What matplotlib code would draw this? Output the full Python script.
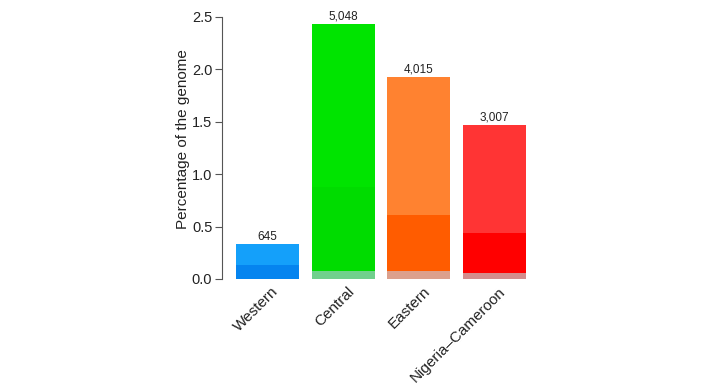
import matplotlib
matplotlib.use("Agg")
import matplotlib.pyplot as plt
import matplotlib.transforms as mtransforms

plt.rcParams['font.family'] = ['Liberation Sans', 'DejaVu Sans']

categories = ["Western", "Central", "Eastern", "Nigeria\u2013Cameroon"]
total_pct = [0.331, 2.433, 1.925, 1.467]
middle_pct = [0.134, 0.875, 0.611, 0.436]
base_pct = [0.0, 0.076, 0.076, 0.060]
counts = ["645", "5,048", "4,015", "3,007"]

light_colors = ["#14a0fa", "#00e400", "#ff8230", "#ff3434"]
dark_colors = ["#0584ef", "#00dc00", "#ff5c00", "#ff0000"]
base_colors = ["#8cb8e0", "#70d08c", "#dca08c", "#d48c8c"]

fig = plt.figure(figsize=(7.03, 3.87), dpi=100)
ax = fig.add_axes([222/703, 108/387, (540-222)/703, (279-17)/387])

x = list(range(len(categories)))
w = 0.83
ax.bar(x, total_pct, width=w, color=light_colors, linewidth=0)
ax.bar(x, middle_pct, width=w, color=dark_colors, linewidth=0)
ax.bar(x, base_pct, width=w, color=base_colors, linewidth=0)

for xi, t, c in zip(x, total_pct, counts):
    ax.text(xi, t + 0.015, c, ha='center', va='bottom', fontsize=8.5, color='#222222', clip_on=False)

ax.set_xlim(-0.6, 3.6)
ax.set_ylim(0, 2.5)
ax.set_yticks([0, 0.5, 1.0, 1.5, 2.0, 2.5])
ax.set_yticklabels(["0.0", "0.5", "1.0", "1.5", "2.0", "2.5"])
ax.tick_params(axis='y', length=5, width=0.8, color='#555555', labelsize=10.5, labelcolor='#222222', pad=2)
ax.set_xticks(x)
ax.set_xticklabels(categories, rotation=45, ha='right', va='top', rotation_mode='anchor', fontsize=11, color='#222222')
ax.tick_params(axis='x', length=0, pad=4)
offset = mtransforms.ScaledTranslation(4/100, 0, fig.dpi_scale_trans)
for lab in ax.get_xticklabels():
    lab.set_transform(lab.get_transform() + offset)

for s in ['top', 'right', 'bottom']:
    ax.spines[s].set_visible(False)
ax.spines['left'].set_color('#555555')
ax.spines['left'].set_linewidth(0.8)
ax.spines['left'].set_bounds(0, 2.5)

ax.set_ylabel("Percentage of the genome", fontsize=11, color='#222222')
ax.yaxis.set_label_coords(-0.1, 0.534)

fig.savefig("out.png", dpi=100)
